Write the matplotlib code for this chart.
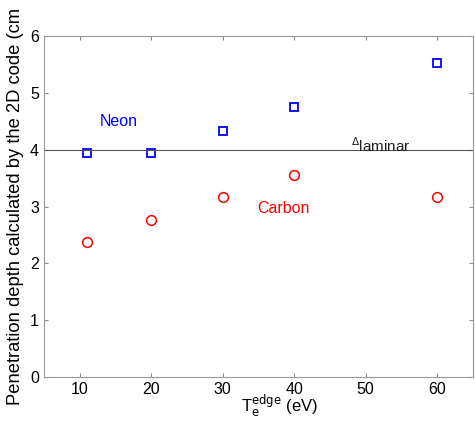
import matplotlib.pyplot as plt

temps = [11, 20, 30, 40, 60]
neon = [3.95, 3.95, 4.33, 4.75, 5.52]
carbon = [2.38, 2.77, 3.17, 3.56, 3.17]
laminar = 4.0
xticks = [10, 20, 30, 40, 50, 60]
yticks = [0, 1, 2, 3, 4, 5, 6]

plt.rcParams['font.family'] = ['Liberation Sans', 'DejaVu Sans']

fig = plt.figure(figsize=(4.75, 4.26), dpi=100)
ax = fig.add_axes([0.0926, 0.115, 0.903, 0.8])

ax.plot(temps, neon, 's', mfc='none', mec='blue', ms=5.5, mew=1.3)
ax.plot(temps, carbon, 'o', mfc='none', mec='red', ms=7, mew=1.1)
ax.axhline(laminar, color='#555555', lw=0.8)

ax.text(12.8, 4.49, 'Neon', color='blue', fontsize=11.5, va='center')
ax.text(34.8, 2.97, 'Carbon', color='red', fontsize=11.5, va='center')
ax.text(48.0, 4.08, r'$^{\Delta}$laminar', color='#222222', fontsize=11, va='center')

ax.set_xlim(5, 65)
ax.set_ylim(0, 6)
ax.set_xticks(xticks)
ax.set_yticks(yticks)
ax.tick_params(direction='in', top=True, right=True, labelsize=11.5, length=3, color='#888888')
for s in ax.spines.values():
    s.set_color('#999999')
    s.set_linewidth(0.8)

ax.set_ylabel('Penetration depth calculated by the 2D code (cm', fontsize=13.2)
ax.yaxis.set_label_coords(-0.046, 0.5)
ax.text(0.55, -0.045, r'T$_\mathrm{e}^\mathrm{edge}$ (eV)', transform=ax.transAxes,
        fontsize=12, ha='center', va='top')

fig.savefig('out.png', dpi=100)
